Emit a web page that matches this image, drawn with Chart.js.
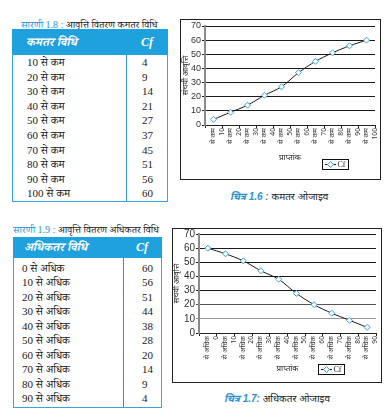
<!DOCTYPE html>
<html><head><meta charset="utf-8">
<script src="https://cdn.jsdelivr.net/npm/chart.js@4/dist/chart.umd.min.js"></script>
<style>
html,body{margin:0;padding:0;background:#fff}
body{width:388px;height:419px;position:relative;overflow:hidden;font-family:"Liberation Serif","Noto Serif Devanagari","Noto Sans Devanagari","Lohit Devanagari",serif;color:#222}
.cap{position:absolute;font-size:10px;white-space:nowrap;line-height:12px}
.cap .lb{color:#2d93cf}
.fig{position:absolute;font-size:10px;white-space:nowrap;line-height:12px;font-family:"Liberation Sans","Noto Sans Devanagari",sans-serif}
.fig .lb{color:#2d93cf;font-weight:bold;font-style:italic}
.tbl{position:absolute;border:1px solid #3aa3dc;box-sizing:border-box}
.hdr{position:absolute;left:-1px;right:-1px;top:-1px;background:#1fa1de;color:#fff;font-weight:bold;font-style:italic;font-size:12px}
.hdr span,.row span{position:absolute;white-space:nowrap}
.row{position:absolute;left:0;right:0;font-size:11px}
.div{position:absolute;top:0;bottom:0;width:1px;background:#3b8fc2}
.box{position:absolute;border:1px solid #222;box-sizing:border-box}
canvas{display:block}
</style>
</head><body>

<div class="cap" style="left:21px;top:19px"><span class="lb">सारणी 1.8 :</span> आवृत्ति वितरण कमतर विधि</div>
<div class="tbl" id="t1" style="left:12px;top:29px;width:156px;height:173px"></div>

<div class="cap" style="left:13px;top:224px"><span class="lb">सारणी 1.9 :</span> आवृत्ति वितरण अधिकतर विधि</div>
<div class="tbl" id="t2" style="left:13px;top:237px;width:149px;height:171px"></div>

<div class="box" style="left:180px;top:19px;width:201px;height:161px"><canvas id="c1" width="199" height="159"></canvas></div>
<div class="fig" style="left:230px;top:191px"><span class="lb">चित्र 1.6 :</span> कमतर ओजाइव</div>

<div class="box" style="left:172px;top:228px;width:210px;height:155px"><canvas id="c2" width="208" height="153"></canvas></div>
<div class="fig" style="left:224px;top:393px"><span class="lb">चित्र 1.7:</span> अधिकतर ओजाइव</div>

<script>
// ---- data ----
const lessBounds = [10, 20, 30, 40, 50, 60, 70, 80, 90, 100];
const lessCf     = [4, 9, 14, 21, 27, 37, 45, 51, 56, 60];
const moreBounds = [0, 10, 20, 30, 40, 50, 60, 70, 80, 90];
const moreCf     = [60, 56, 51, 44, 38, 28, 20, 14, 9, 4];
const yTicks     = [0, 10, 20, 30, 40, 50, 60, 70];
const lessWord = 'से कम';
const moreWord = 'से अधिक';
const seriesName = 'Cf';
const xTitle = 'प्राप्तांक';
const yTitle = 'संचयी आवृत्ति';

// ---- tables ----
function buildTable(id, headText, bounds, word, vals, g){
  const el = document.getElementById(id);
  let html = '<div class="hdr" style="height:'+g.hh+'px;line-height:'+g.hh+'px">'
    + '<span style="left:'+g.hx+'px">'+headText+'</span>'
    + '<span style="left:'+g.hcx+'px;font-family:Liberation Serif,serif">'+seriesName+'</span></div>';
  html += '<div class="div" style="left:'+g.dx+'px;top:'+(g.hh-1)+'px"></div>';
  bounds.forEach((b,i)=>{
    const top = g.r0 + i*g.rh;
    html += '<div class="row" style="top:'+top+'px;height:'+g.rh+'px;line-height:'+g.rh+'px">'
      + '<span style="left:'+g.tx+'px">'+b+' '+word+'</span>'
      + '<span style="left:'+g.cx+'px">'+vals[i]+'</span></div>';
  });
  el.innerHTML = html;
}
buildTable('t1','कमतर विधि',lessBounds,lessWord,lessCf,{hh:26,hx:14,hcx:129,dx:113,r0:25,rh:14.6,tx:14,cx:129});
buildTable('t2','अधिकतर विधि',moreBounds,moreWord,moreCf,{hh:21,hx:11,hcx:123,dx:109,r0:23,rh:14.45,tx:8,cx:128});

// ---- charts ----
const DEV = '"Noto Sans Devanagari","Lohit Devanagari","Noto Sans","Liberation Sans",sans-serif';
const cfLegend = {
  id:'cfLegend',
  afterDraw(chart, args, o){
    const ctx = chart.ctx, ds = chart.data.datasets[0];
    const x = Math.round(chart.width - o.right - o.w), y = Math.round(chart.height - o.bottom - o.h);
    ctx.save();
    ctx.fillStyle = '#fff';
    ctx.fillRect(x, y, o.w, o.h);
    ctx.strokeStyle = '#111'; ctx.lineWidth = 1;
    ctx.strokeRect(x+0.5, y+0.5, o.w, o.h);
    const cy = y + o.h/2 + 0.5;
    ctx.beginPath(); ctx.moveTo(x+3, cy); ctx.lineTo(x+14, cy);
    ctx.strokeStyle = ds.borderColor; ctx.lineWidth = ds.borderWidth; ctx.stroke();
    const r = ds.pointRadius, px = x+8.5;
    ctx.beginPath(); ctx.moveTo(px, cy-r); ctx.lineTo(px+r, cy); ctx.lineTo(px, cy+r); ctx.lineTo(px-r, cy); ctx.closePath();
    ctx.fillStyle = ds.pointBackgroundColor; ctx.fill();
    ctx.strokeStyle = ds.pointBorderColor; ctx.lineWidth = ds.pointBorderWidth; ctx.stroke();
    ctx.fillStyle = '#222'; ctx.font = '8px "Liberation Serif", serif';
    ctx.textBaseline = 'middle'; ctx.textAlign = 'left';
    ctx.fillText(ds.label, x+15.5, cy);
    ctx.restore();
  }
};

function makeChart(id, bounds, word, data, o){
  return new Chart(document.getElementById(id), {
    type:'line',
    data:{
      labels: bounds.map(b=>[word, String(b)]),
      datasets:[{label:seriesName, data, borderColor:'#1a1a1a', borderWidth:1, tension:0.3,
        pointStyle:'rectRot', pointRadius:3, pointBackgroundColor:'#fff',
        pointBorderColor:'#3aa0d6', pointBorderWidth:1, fill:false}]
    },
    options:{
      responsive:false, animation:false, devicePixelRatio:1,
      layout:{padding:{top:o.padTop, right:o.padRight, left:0, bottom:0}},
      plugins:{legend:{display:false}, tooltip:{enabled:false},
        cfLegend:{right:o.legRight, bottom:o.legBottom, w:26, h:10}},
      scales:{
        x:{offset:true,
          grid:{display:true, drawOnChartArea:false, drawTicks:true, tickLength:3, offset:true, color:'#222'},
          border:{color:'#222', width:1},
          ticks:{minRotation:90, maxRotation:90, autoSkip:false, padding:0, color:'#333',
            font:{size:7, family:DEV, lineHeight:1.25}},
          title:{display:true, text:xTitle, color:'#222', font:{size:8, family:DEV}, padding:{top:0, bottom:o.xtPad}},
          afterFit(s){ s.height = o.xh; s.paddingLeft = 0; s.paddingRight = 0; }
        },
        y:{min:0, max:70,
          afterBuildTicks(s){ s.ticks = yTicks.map(v=>({value:v})); },
          ticks:{autoSkip:false, color:'#333', padding:1, font:{size:o.yFont, family:'"Liberation Sans",sans-serif'}},
          grid:{color:o.gridColor, lineWidth:1, tickLength:3},
          border:{color:'#8a8a8a', width:2},
          title:{display:true, text:yTitle, color:'#222', font:{size:8, family:DEV}, padding:{top:o.ytPad, bottom:0}},
          afterFit(s){ s.width = o.yw; s.paddingTop = 0; s.paddingBottom = 0; }
        }
      }
    },
    plugins:[cfLegend]
  });
}

makeChart('c1', lessBounds, lessWord, lessCf, {padTop:6, padRight:3, xh:54, yw:24, xtPad:16, ytPad:1,
  legRight:32, legBottom:10, yFont:9, gridColor:'#1a1a1a'});
makeChart('c2', moreBounds, moreWord, moreCf, {padTop:3, padRight:5, xh:49, yw:26, xtPad:8, ytPad:0,
  legRight:37, legBottom:8, yFont:10,
  gridColor:(c)=> (c.tick && c.tick.value===10) ? '#9a9a9a' : (c.tick && c.tick.value===20 ? '#555' : '#1a1a1a')});
</script>
</body></html>
